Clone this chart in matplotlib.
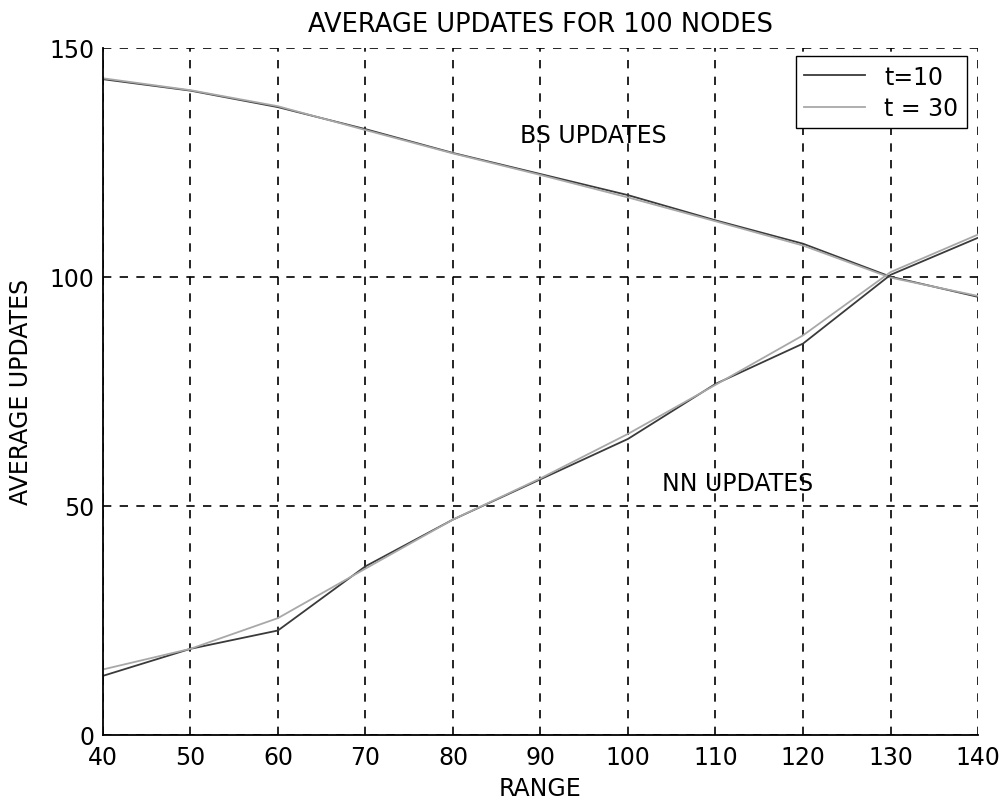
import numpy as np
import matplotlib.pyplot as plt

plt.rcParams['font.family'] = ['DejaVu Sans']

rng = [40, 50, 60, 70, 80, 90, 100, 110, 120, 130, 140]

bs_t10 = [143.1, 140.6, 137.0, 132.2, 127.0, 122.4, 117.8, 112.3, 107.2, 100.0, 95.6]
bs_t30 = [143.3, 140.7, 137.2, 132.0, 126.9, 122.2, 117.3, 112.1, 106.8, 99.8, 95.8]
nn_t10 = [12.9, 18.8, 22.8, 36.8, 47.0, 55.8, 64.6, 76.6, 85.4, 100.4, 108.5]
nn_t30 = [14.3, 18.8, 25.5, 36.3, 47.0, 56.0, 65.7, 76.4, 87.2, 101.0, 109.2]

xticks = [40, 50, 60, 70, 80, 90, 100, 110, 120, 130, 140]
yticks = [0, 50, 100, 150]

fs = 17

fig = plt.figure(figsize=(9.99, 8.04), dpi=100)
ax = fig.add_axes([0.103, 0.0846, 0.876, 0.855])

l1, = ax.plot(rng, bs_t10, color='#3a3a3a', lw=1.3, label='t=10')
l2, = ax.plot(rng, bs_t30, color='#a8a8a8', lw=1.3, label='t = 30')
ax.plot(rng, nn_t10, color='#3a3a3a', lw=1.3)
ax.plot(rng, nn_t30, color='#a8a8a8', lw=1.3)

ax.set_xlim(40, 140)
ax.set_ylim(0, 150)
ax.set_xticks(xticks)
ax.set_yticks(yticks)
ax.tick_params(labelsize=fs, length=0)
ax.tick_params(axis='x', pad=7)
ax.tick_params(axis='y', pad=6)
ax.grid(True, color='black', linestyle=(0, (5, 5)), linewidth=1.2)

ax.set_title('AVERAGE UPDATES FOR 100 NODES', fontsize=18.5, pad=12)
ax.set_xlabel('RANGE', fontsize=fs, labelpad=5)
ax.set_ylabel('AVERAGE UPDATES', fontsize=fs, labelpad=12)

ax.text(96, 131, 'BS UPDATES', fontsize=fs, ha='center', va='center')
ax.text(112.5, 55, 'NN UPDATES', fontsize=fs, ha='center', va='center')

for s in ax.spines.values():
    s.set_linewidth(1.3)
ax.spines['top'].set_visible(False)
ax.spines['right'].set_visible(False)

leg = ax.legend(handles=[l1, l2], loc='upper right', fontsize=fs,
                fancybox=False, edgecolor='black', framealpha=1,
                bbox_to_anchor=(0.987, 0.987), borderaxespad=0,
                handlelength=2.6, borderpad=0.35, labelspacing=0.3)
leg.get_frame().set_linewidth(1.0)

fig.savefig('out.png', dpi=100)
